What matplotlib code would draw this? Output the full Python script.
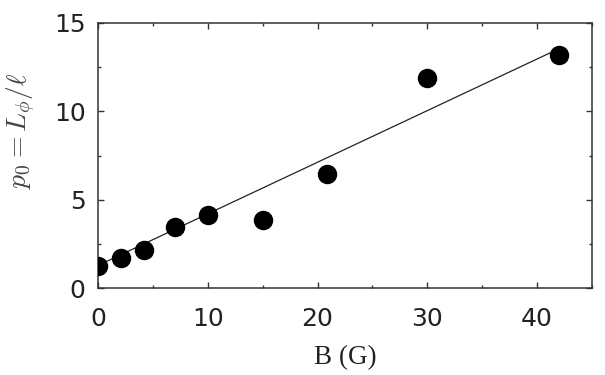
import matplotlib
matplotlib.use('Agg')
from matplotlib import pyplot as plt
from matplotlib.ticker import MultipleLocator

# data
field = [0, 2.1, 4.2, 7.0, 10.0, 15.0, 20.9, 30.0, 42.0]
p0 = [1.25, 1.75, 2.2, 3.45, 4.15, 3.85, 6.45, 11.9, 13.2]
fit_x = [0, 42]
fit_y = [1.3, 13.55]

plt.rcParams['mathtext.fontset'] = 'cm'

fig = plt.figure(figsize=(6.05, 3.75), dpi=100)
ax = fig.add_axes([0.162, 0.2307, 0.8165, 0.708])

ax.plot(fit_x, fit_y, color='#222222', lw=0.9, zorder=2)
ax.plot(field, p0, 'o', color='black', ms=13, zorder=3)

ax.set_xlim(0, 45)
ax.set_ylim(0, 15)
ax.xaxis.set_major_locator(MultipleLocator(10))
ax.xaxis.set_minor_locator(MultipleLocator(5))
ax.yaxis.set_major_locator(MultipleLocator(5))
ax.yaxis.set_minor_locator(MultipleLocator(2.5))

ax.tick_params(which='both', direction='in', top=True, right=True,
               width=1, color='#333333')
ax.tick_params(which='major', length=4.5, labelsize=18)
ax.tick_params(axis='x', which='major', pad=13)
ax.tick_params(axis='y', which='major', pad=9)
ax.tick_params(which='minor', length=2.5)
for lab in ax.get_xticklabels() + ax.get_yticklabels():
    lab.set_family('DejaVu Sans')
    lab.set_color('#222222')
for s in ax.spines.values():
    s.set_linewidth(1.1)
    s.set_color('#333333')

ax.set_xlabel('B (G)', family='Liberation Serif', fontsize=19.5, color='#222222')
ax.xaxis.set_label_coords(0.5, -0.215)
ax.set_ylabel(r'$p_0 = L_\phi/\ell$', fontsize=20, color='#444444')
ax.yaxis.set_label_coords(-0.122, 0.593)

fig.savefig('out.png', dpi=100)
